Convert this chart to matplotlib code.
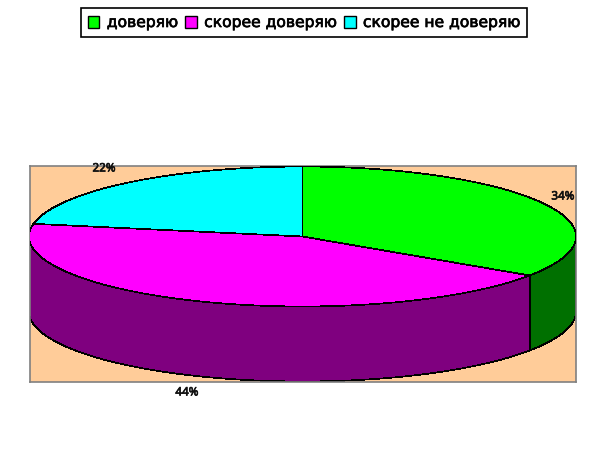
import numpy as np
import matplotlib
matplotlib.use("Agg")
import matplotlib.pyplot as plt
import matplotlib.patheffects as pe
from matplotlib.patches import Polygon, Rectangle

categories = ["доверяю", "скорее доверяю", "скорее не доверяю"]
values = [34.4, 43.5, 22.1]
top_colors = ["#00FF00", "#FF00FF", "#00FFFF"]
side_colors = ["#007000", "#7F007F", "#007F7F"]

W, H = 612, 465
fig = plt.figure(figsize=(W / 100, H / 100), dpi=100, facecolor="white")
# Plot area in pixels
L, R, T, B = 29.5, 576, 166, 382
ax = fig.add_axes([L / W, 1 - B / H, (R - L) / W, (B - T) / H])
ax.set_xlim(L, R)
ax.set_ylim(B, T)
ax.set_facecolor("#FFCC99")
ax.set_xticks([])
ax.set_yticks([])
for s in ax.spines.values():
    s.set_color("#808080")
    s.set_linewidth(1.2)

cx, cy, rx, ry, depth = 302.5, 236.5, 273.5, 70, 75


def pt(theta):
    return cx + rx * np.sin(theta), cy - ry * np.cos(theta)


fracs = np.array(values, dtype=float) / sum(values)
edges = np.concatenate([[0], np.cumsum(fracs)]) * 2 * np.pi

# Walls: only the front half of the rim (pi/2 .. 3pi/2 clockwise from top)
for i in range(len(values)):
    a = max(edges[i], np.pi / 2)
    b = min(edges[i + 1], 3 * np.pi / 2)
    if b <= a:
        continue
    th = np.linspace(a, b, 200)
    x, y = pt(th)
    pts = np.vstack([np.c_[x, y], np.c_[x[::-1], y[::-1] + depth]])
    ax.add_patch(Polygon(pts, closed=True, facecolor=side_colors[i],
                         edgecolor="black", linewidth=0.5, zorder=2,
                         antialiased=False))

# Top faces
for i in range(len(values)):
    th = np.linspace(edges[i], edges[i + 1], 300)
    x, y = pt(th)
    pts = np.vstack([[cx, cy], np.c_[x, y]])
    ax.add_patch(Polygon(pts, closed=True, facecolor=top_colors[i],
                         edgecolor="black", linewidth=0.5, zorder=3,
                         antialiased=False))

label_pos = [(563, 197), (187, 393), (104, 169)]
for v, (px, py) in zip(values, label_pos):
    ax.text(px, py, f"{v:.0f}%", ha="center", va="center", fontsize=8.4,
            family="Noto Sans", color="#111111", zorder=5, clip_on=False,
            path_effects=[pe.withStroke(linewidth=0.5, foreground="#111111")])

handles = [Rectangle((0, 0), 1, 1, facecolor=c, edgecolor="black", linewidth=1.0)
           for c in top_colors]
leg = fig.legend(handles, categories, loc="center", ncol=3,
                 bbox_to_anchor=(304 / W, 1 - 22.5 / H),
                 prop={"family": "DejaVu Sans", "size": 11.2, "weight": "normal"},
                 frameon=True, fancybox=False, edgecolor="black", framealpha=1,
                 handlelength=0.75, handleheight=0.8, handletextpad=0.47,
                 columnspacing=0.46, borderpad=0.42, borderaxespad=0)
leg.get_frame().set_linewidth(1.2)
for t in leg.get_texts():
    t.set_path_effects([pe.withStroke(linewidth=0.5, foreground="black")])

fig.savefig("out.png", dpi=100, facecolor="white")
